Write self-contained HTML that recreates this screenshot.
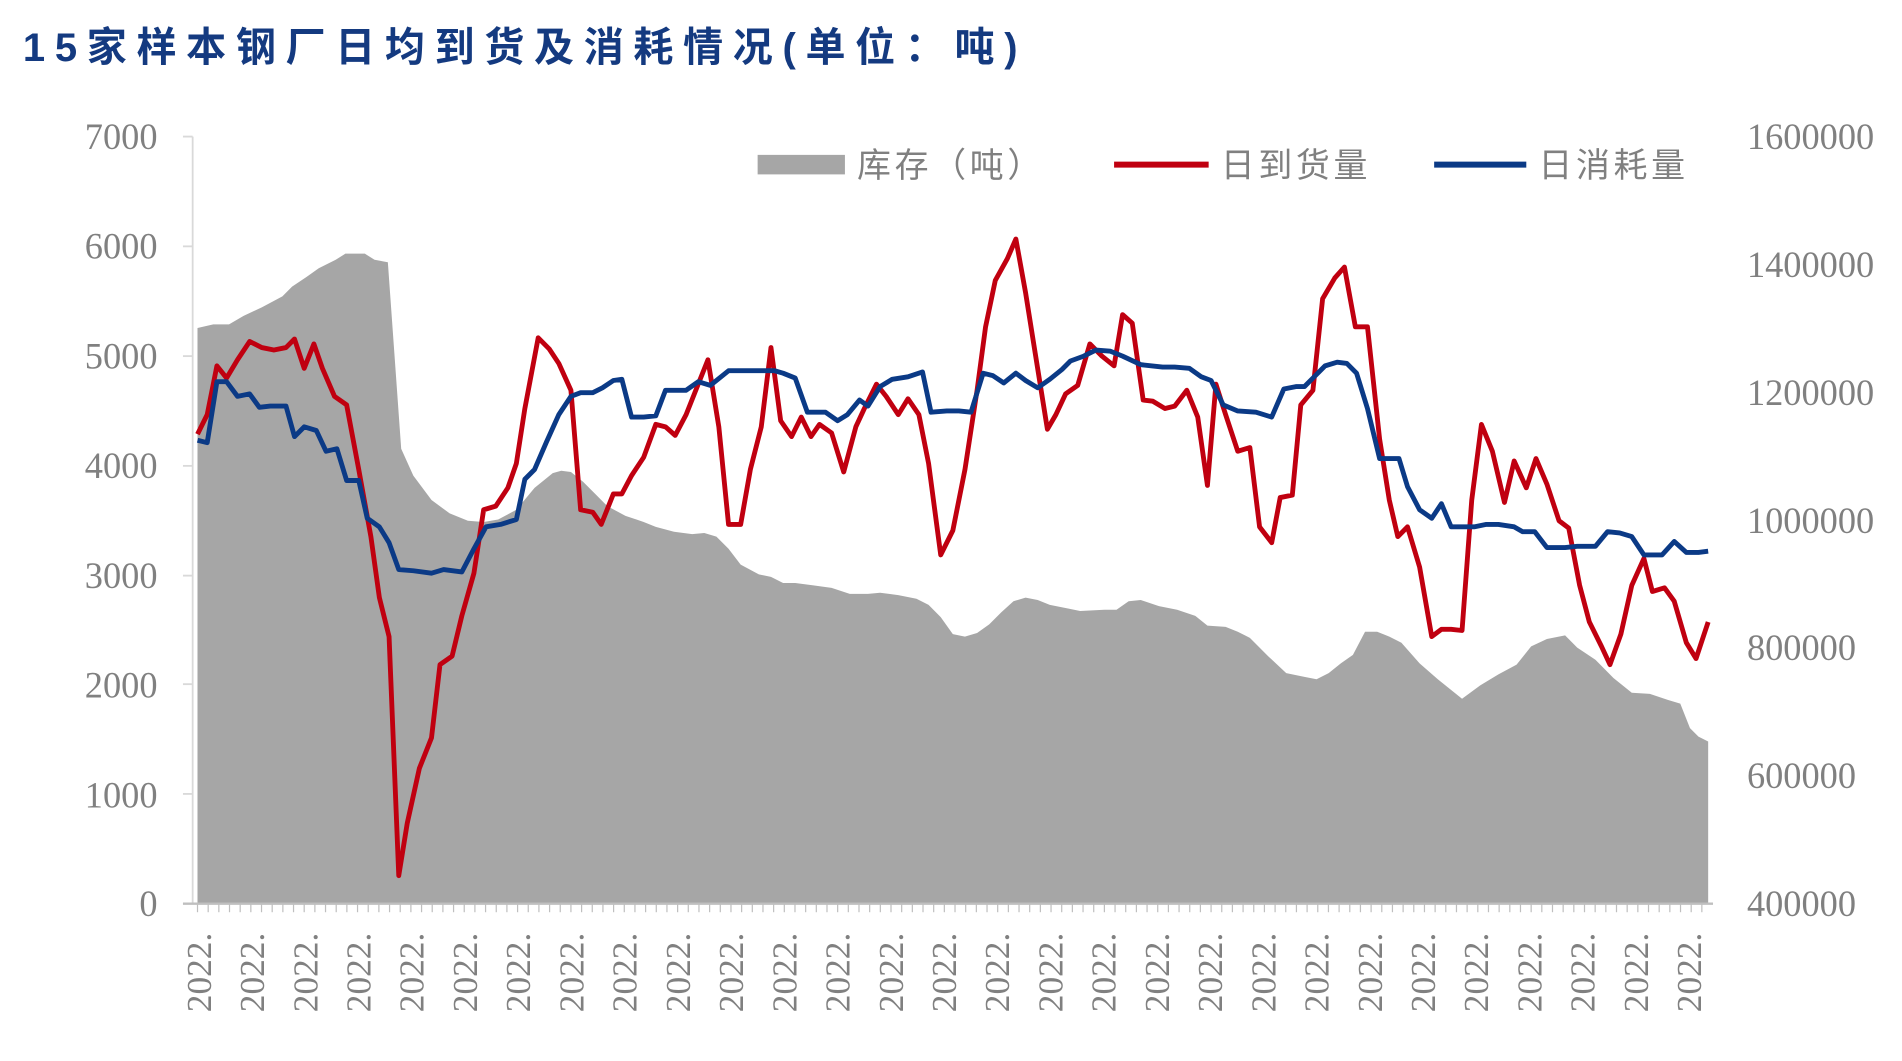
<!DOCTYPE html>
<html><head><meta charset="utf-8"><style>
html,body{margin:0;padding:0;background:#fff;}
svg{display:block;}
</style></head><body>
<svg width="1902" height="1061" viewBox="0 0 1560 870" preserveAspectRatio="none" xmlns="http://www.w3.org/2000/svg">
<g transform="translate(0.9,0) scale(0.9944,1)">
<text x="18" y="50" font-family="'Liberation Sans','Noto Sans CJK SC',sans-serif" font-weight="bold" font-size="33" letter-spacing="8" fill="#143a80">15家样本钢厂日均到货及消耗情况(单位：吨)</text>

<polygon fill="#a6a6a6" points="162,741 162,269 175,266 188,266 200,259 215,252 232,243 240,235 252,227 262,220 276,213 284,208 300,208 308,213 319,215 330,368 340,390 355,410 370,421 385,427 398,428 410,426 425,418 440,400 455,388 462,386 470,387 480,395 490,405 500,415 515,423 530,428 540,432 555,436 570,438 580,437 590,440 600,450 610,463 625,471 635,473 645,478 655,478 670,480 685,482 700,487 715,487 725,486 740,488 755,491 765,496 775,506 785,520 795,522 805,519 815,512 825,502 835,493 845,490 855,492 865,496 880,499 890,501 910,500 920,500 930,493 940,492 955,497 970,500 985,505 995,513 1010,514 1020,518 1030,523 1045,538 1060,552 1075,555 1085,557 1095,552 1105,544 1115,537 1125,518 1135,518 1145,522 1155,527 1170,544 1185,557 1205,573 1220,562 1235,553 1250,545 1262,530 1275,524 1290,521 1300,531 1315,541 1330,556 1345,568 1360,569 1375,574 1385,577 1393,597 1400,604 1408,608 1408,741"/>

<g font-family="'Liberation Serif',serif" font-size="30" fill="#808080">
<g text-anchor="end">
<text x="129" y="122">7000</text><text x="129" y="212">6000</text><text x="129" y="302">5000</text><text x="129" y="392">4000</text><text x="129" y="482">3000</text><text x="129" y="572">2000</text><text x="129" y="662">1000</text><text x="129" y="751">0</text>
</g>
<text x="1440" y="122">1600000</text><text x="1440" y="227">1400000</text><text x="1440" y="332">1200000</text><text x="1440" y="437">1000000</text><text x="1440" y="541">800000</text><text x="1440" y="646">600000</text><text x="1440" y="751">400000</text>
</g>

<line x1="158" y1="112" x2="158" y2="741" stroke="#d9d9d9" stroke-width="1.5"/>
<g stroke="#d9d9d9" stroke-width="1.5">
<line x1="150" y1="112" x2="158" y2="112"/><line x1="150" y1="202" x2="158" y2="202"/><line x1="150" y1="292" x2="158" y2="292"/><line x1="150" y1="382" x2="158" y2="382"/><line x1="150" y1="472" x2="158" y2="472"/><line x1="150" y1="561" x2="158" y2="561"/><line x1="150" y1="651" x2="158" y2="651"/>
</g>
<line x1="150" y1="741" x2="1412" y2="741" stroke="#bfbfbf" stroke-width="2"/>
<g id="ticks" stroke="#bfbfbf" stroke-width="1"></g>

<polyline fill="none" stroke="#c00010" stroke-width="4" stroke-linejoin="round" points="162,356 170,340 178,300 186,310 195,295 205,280 215,285 225,287 235,285 242,278 250,302 258,282 265,302 275,325 285,332 295,385 305,440 312,490 320,522 328,718 335,675 345,630 355,605 362,545 372,538 380,505 390,470 398,418 408,415 418,400 425,380 432,335 443,277 452,286 460,298 470,320 478,418 488,420 495,430 505,405 512,405 520,390 530,375 540,348 548,350 556,357 565,340 575,315 583,295 592,350 600,430 610,430 618,385 627,350 635,285 643,345 652,358 660,342 668,358 675,348 685,355 695,387 705,350 712,335 722,315 730,325 740,340 748,327 757,340 765,380 775,455 785,435 795,385 805,320 812,268 820,230 830,212 837,196 845,240 853,290 863,352 870,340 878,323 888,316 898,282 908,292 918,300 925,258 933,265 942,328 950,329 960,335 968,333 978,320 987,342 995,398 1002,315 1010,340 1020,370 1030,367 1038,432 1048,445 1055,408 1065,406 1072,332 1082,320 1090,245 1100,228 1108,219 1117,268 1127,268 1137,360 1145,410 1152,440 1160,432 1170,465 1180,522 1188,516 1196,516 1205,517 1213,410 1221,348 1230,370 1240,412 1248,378 1258,400 1266,376 1275,397 1285,427 1293,433 1302,480 1310,510 1320,530 1327,545 1336,520 1345,480 1355,458 1362,485 1372,482 1380,493 1390,527 1398,540 1408,510"/>

<polyline fill="none" stroke="#0b3a86" stroke-width="4" stroke-linejoin="round" points="162,361 170,363 178,313 186,313 195,325 205,323 213,334 222,333 235,333 242,358 250,350 260,353 268,370 277,368 285,394 295,394 302,425 312,432 320,445 328,467 340,468 355,470 365,467 380,469 390,450 400,432 412,430 425,426 432,393 440,385 450,362 460,340 470,325 478,322 488,322 496,318 505,312 512,311 520,342 530,342 540,341 548,320 558,320 565,320 575,313 585,316 600,304 615,304 625,304 638,304 645,306 655,310 665,338 680,338 690,345 698,340 708,328 715,333 725,317 735,311 748,309 760,305 767,338 780,337 790,337 800,338 810,306 818,308 827,314 837,306 845,312 855,318 865,311 875,303 882,296 893,292 903,287 915,288 925,292 940,299 958,301 968,301 980,302 990,309 998,312 1008,332 1020,337 1035,338 1048,342 1058,319 1068,317 1075,317 1082,310 1092,300 1102,297 1110,298 1118,306 1127,335 1137,376 1153,376 1160,399 1170,418 1180,425 1188,413 1196,432 1205,432 1215,432 1225,430 1235,430 1248,432 1255,436 1265,436 1275,449 1290,449 1300,448 1315,448 1325,436 1335,437 1345,440 1355,455 1370,455 1380,444 1390,453 1400,453 1408,452"/>

<rect x="624" y="127" width="72" height="16" fill="#a6a6a6"/>
<line x1="918" y1="135" x2="996" y2="135" stroke="#c00010" stroke-width="5"/>
<line x1="1182" y1="135" x2="1258" y2="135" stroke="#0b3a86" stroke-width="5"/>
<g font-family="'Liberation Sans','Noto Sans CJK SC',sans-serif" font-size="28" fill="#808080" letter-spacing="3">
<text x="706" y="145">库存（吨）</text>
<text x="1006" y="145">日到货量</text>
<text x="1268" y="145">日消耗量</text>
</g>

<g font-family="'Liberation Serif',serif" font-size="29" fill="#808080" id="xl"></g>
</g>
<script>
var g=document.getElementById('xl'),t=document.getElementById('ticks'),ns='http://www.w3.org/2000/svg';
for(var i=0;i<29;i++){var x=173+i*43.9;var e=document.createElementNS(ns,'text');e.setAttribute('transform','translate('+x+',830) rotate(-90)');e.textContent='2022.';g.appendChild(e);}
for(var x=162;x<=1410;x+=8.8){var l=document.createElementNS(ns,'line');l.setAttribute('x1',x);l.setAttribute('x2',x);l.setAttribute('y1',741);l.setAttribute('y2',748);t.appendChild(l);}
</script>
</svg>
</body></html>
